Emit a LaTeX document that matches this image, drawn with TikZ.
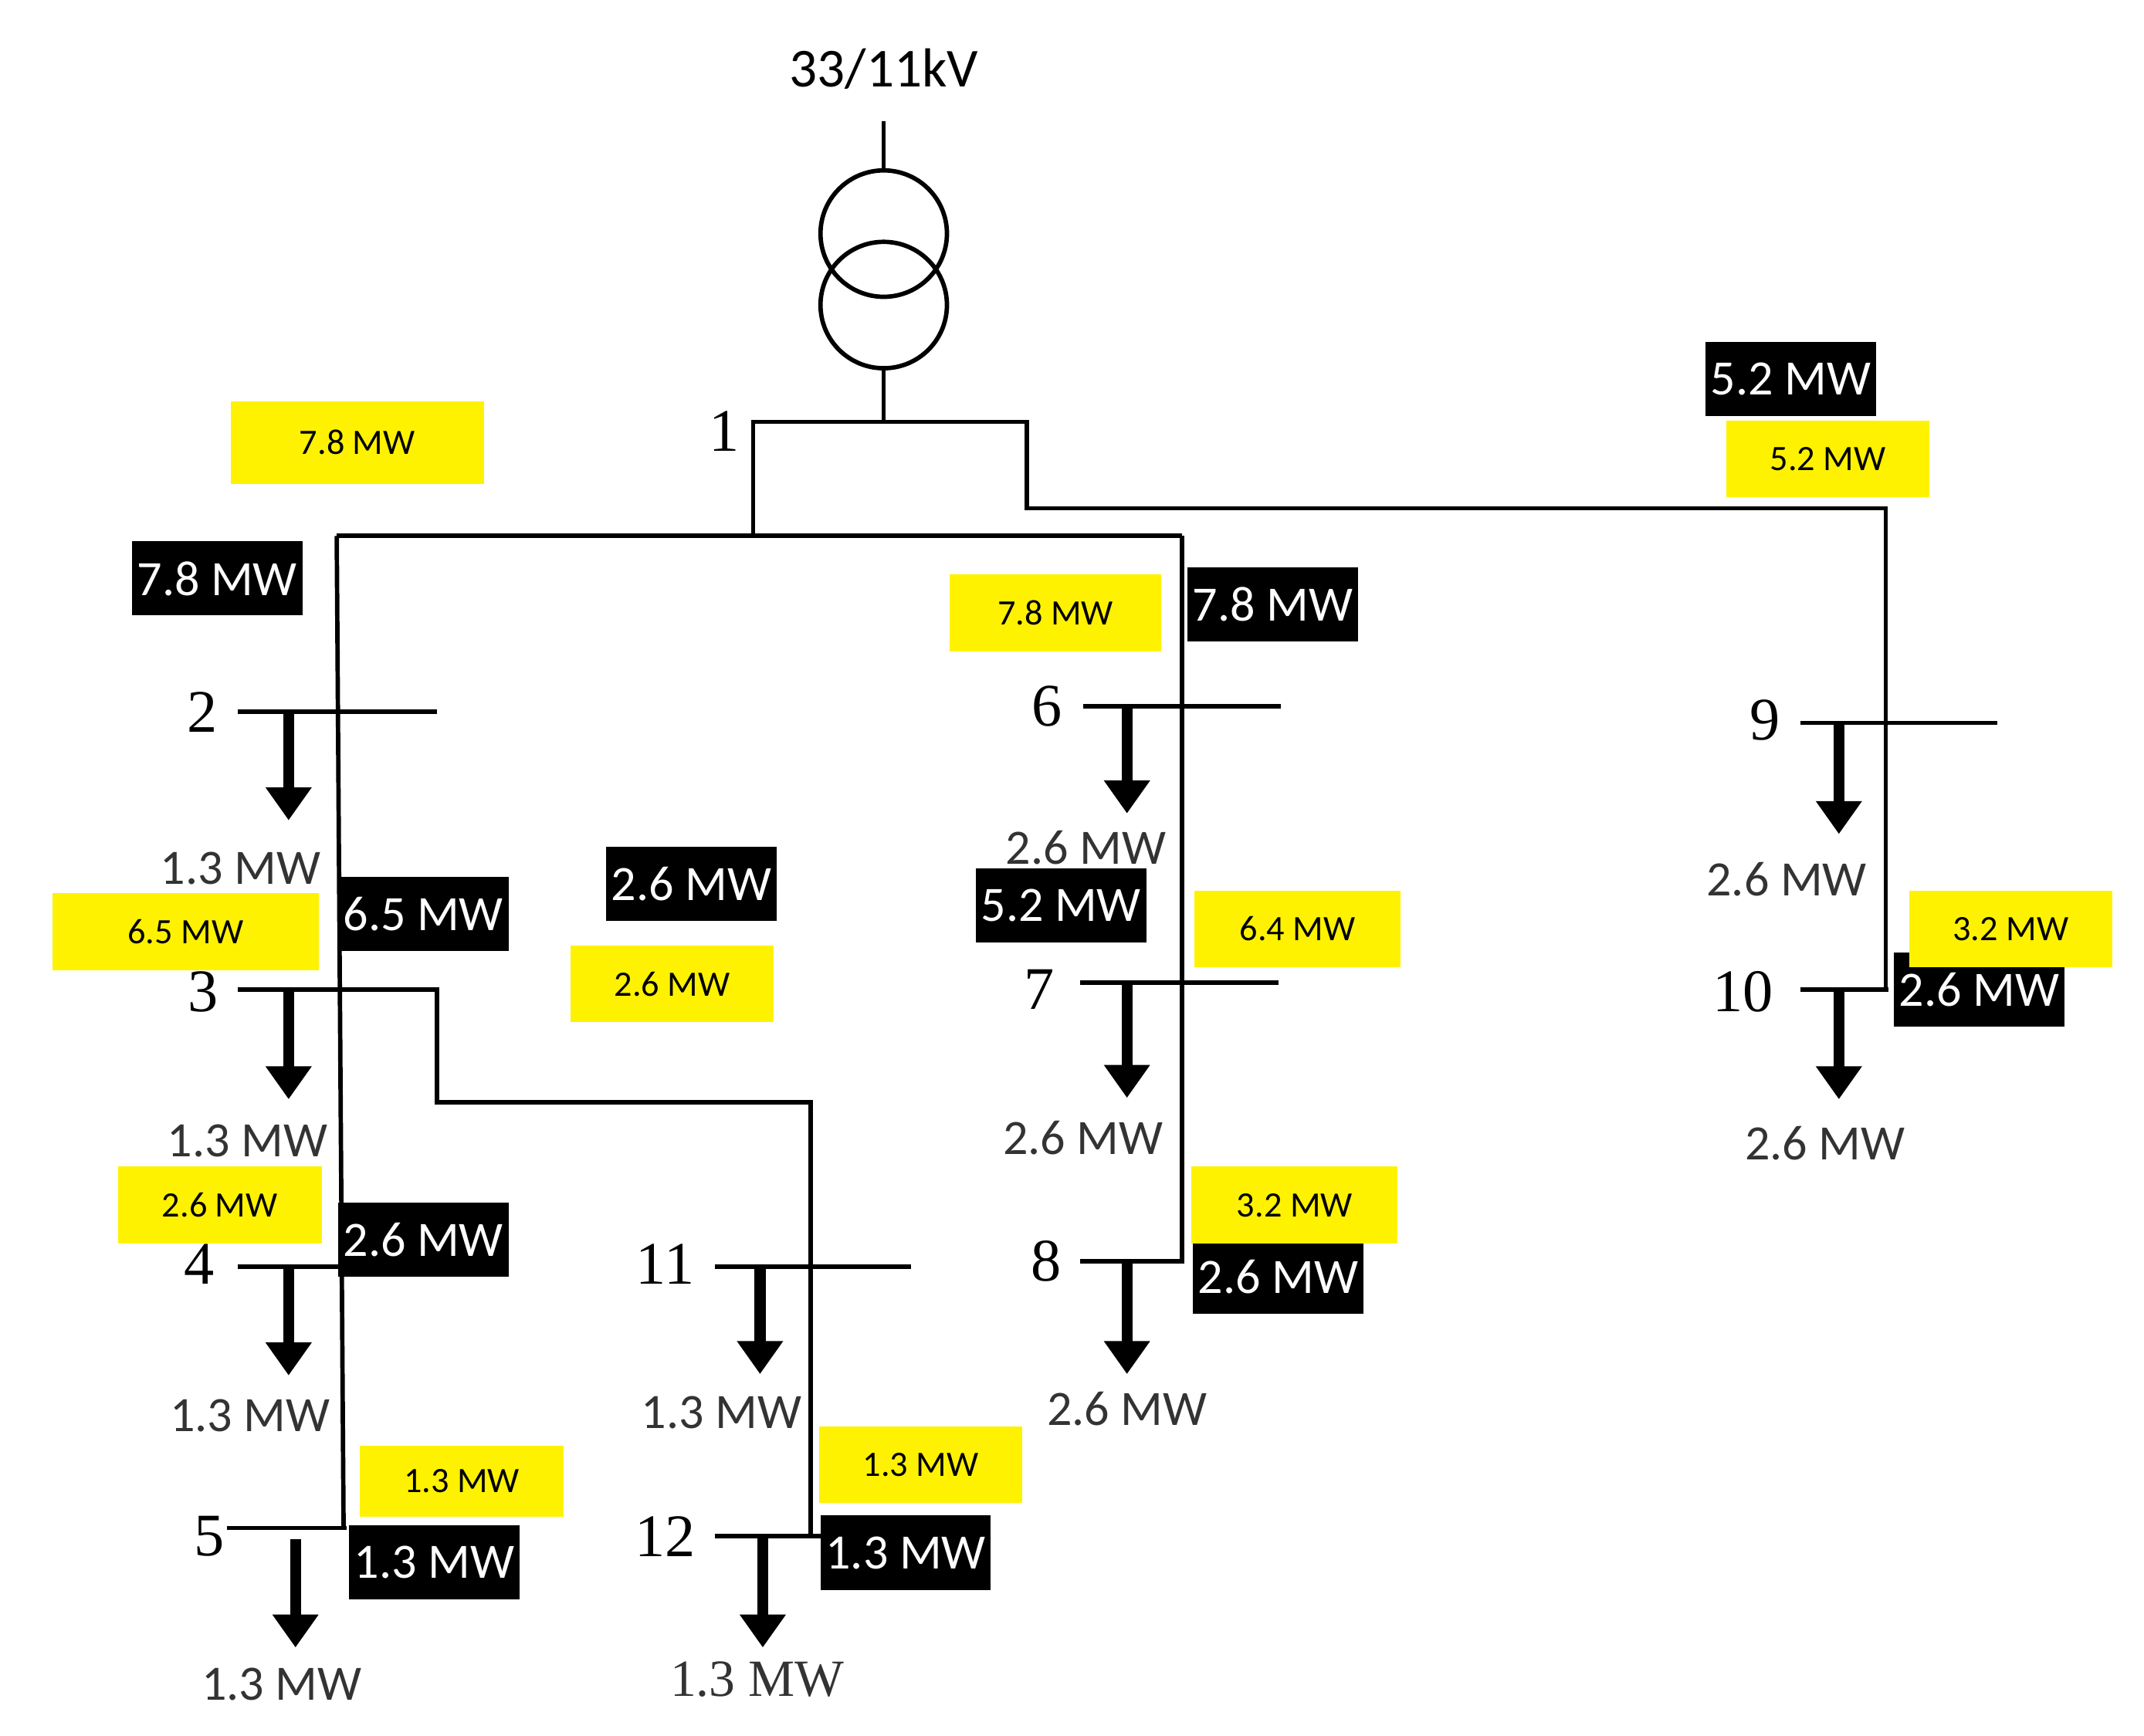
\documentclass[tikz,border=0pt]{standalone}
\usepackage{fontspec}
\setmainfont{Carlito}
\newfontfamily\numf{Liberation Serif}
\usetikzlibrary{arrows.meta}
\begin{document}
\begin{tikzpicture}[x=0.5pt,y=-0.5pt,
  ln/.style={line width=1.6pt},
  ld/.style={line width=4pt,-{Triangle[length=12pt,width=16pt]}},
  num/.style={font=\numf\fontsize{22}{22}\selectfont},
  mw/.style={font=\fontsize{18}{18}\selectfont,text=black!80},
  bk/.style={fill=black,text=white,font=\fontsize{18}{18}\selectfont,minimum width=62pt,minimum height=27pt,inner sep=0pt},
  yb/.style={fill=yellow,text=black,font=\fontsize{13}{13}\selectfont,minimum width=74pt,minimum height=28pt,inner sep=0pt}]
\useasboundingbox (0,0) rectangle (1560,1263);
\node (kv) at (643,50) {\fontsize{20}{20}\selectfont 33/11kV};
\coordinate (t0) at (643,88); \coordinate (t1) at (643,124);
\coordinate (t2) at (643,268); \coordinate (t3) at (643,307);
\draw[ln] (t0)--(t1); \draw[ln] (t2)--(t3);
\draw[ln] (643,170) circle (46); \draw[ln] (643,222) circle (46);
\node[num] (n1) at (527,314) {1};
\coordinate (a) at (548,390); \coordinate (b) at (747,307);
\draw[ln] (a) |- (b) -- (747,370) -| (1372,720);
\draw[ln] (245,390) -- (860,390);
\draw[ln] (245,390) -- (250,1112);
\draw[ln] (860,390) -- (860,918);
% buses
\draw[ln] (173,518)--(318,518); \draw[ld] (210,518)--(210,597);
\draw[ln] (173,720)--(318,720)--(318,802)--(590,802)--(590,1118);
\draw[ld] (210,720)--(210,800);
\draw[ln] (173,922)--(318,922); \draw[ld] (210,922)--(210,1001);
\draw[ln] (165,1112)--(252,1112); \draw[ld] (215,1120)--(215,1199);
\draw[ln] (520,922)--(663,922); \draw[ld] (553,922)--(553,1000);
\draw[ln] (520,1118)--(600,1118); \draw[ld] (555,1118)--(555,1199);
\draw[ln] (788,514)--(932,514); \draw[ld] (820,514)--(820,592);
\draw[ln] (786,715)--(930,715); \draw[ld] (820,715)--(820,799);
\draw[ln] (786,918)--(862,918); \draw[ld] (820,918)--(820,1000);
\draw[ln] (1310,526)--(1453,526); \draw[ld] (1338,526)--(1338,607);
\draw[ln] (1310,720)--(1374,720); \draw[ld] (1338,720)--(1338,800);
\node[num] at (147,518) {2}; \node[num] at (148,722) {3};
\node[num] at (145,920) {4}; \node[num] at (152,1118) {5};
\node[num] at (484,920) {11}; \node[num] at (484,1118) {12};
\node[num] at (762,514) {6}; \node[num] at (756,720) {7};
\node[num] at (761,918) {8}; \node[num] at (1284,524) {9};
\node[num] at (1268,722) {10};
\node[mw] at (175,632) {1.3 MW}; \node[mw] at (180,830) {1.3 MW};
\node[mw] at (182,1030) {1.3 MW}; \node[mw] at (205,1226) {1.3 MW};
\node[mw] at (525,1028) {1.3 MW};
\node[mw,font=\numf\fontsize{19}{19}\selectfont] at (551,1222) {1.3 MW};
\node[mw] at (790,617) {2.6 MW}; \node[mw] at (788,828) {2.6 MW};
\node[mw] at (820,1025) {2.6 MW}; \node[mw] at (1300,640) {2.6 MW};
\node[mw] at (1328,832) {2.6 MW};
% black
\node[bk] at (158,421) {7.8 MW}; \node[bk] at (308,665) {6.5 MW};
\node[bk] at (503,643) {2.6 MW}; \node[bk] at (308,902) {2.6 MW};
\node[bk] at (316,1137) {1.3 MW}; \node[bk] at (659,1130) {1.3 MW};
\node[bk] at (926,440) {7.8 MW}; \node[bk] at (772,659) {5.2 MW};
\node[bk] at (930,929) {2.6 MW}; \node[bk] at (1303,276) {5.2 MW};
\node[bk] at (1440,720) {2.6 MW};
% yellow
\node[yb,minimum width=92pt,minimum height=30pt] at (260,322) {7.8 MW};
\node[yb,minimum width=97pt] at (135,678) {6.5 MW};
\node[yb] at (489,716) {2.6 MW}; \node[yb] at (160,877) {2.6 MW};
\node[yb,minimum height=26pt] at (336,1078) {1.3 MW};
\node[yb] at (670,1066) {1.3 MW};
\node[yb,minimum width=77pt] at (768,446) {7.8 MW};
\node[yb,minimum width=75pt] at (944,676) {6.4 MW};
\node[yb,minimum width=75pt] at (942,877) {3.2 MW};
\node[yb] at (1330,334) {5.2 MW};
\node[yb] at (1463,676) {3.2 MW};
\end{tikzpicture}
\end{document}
